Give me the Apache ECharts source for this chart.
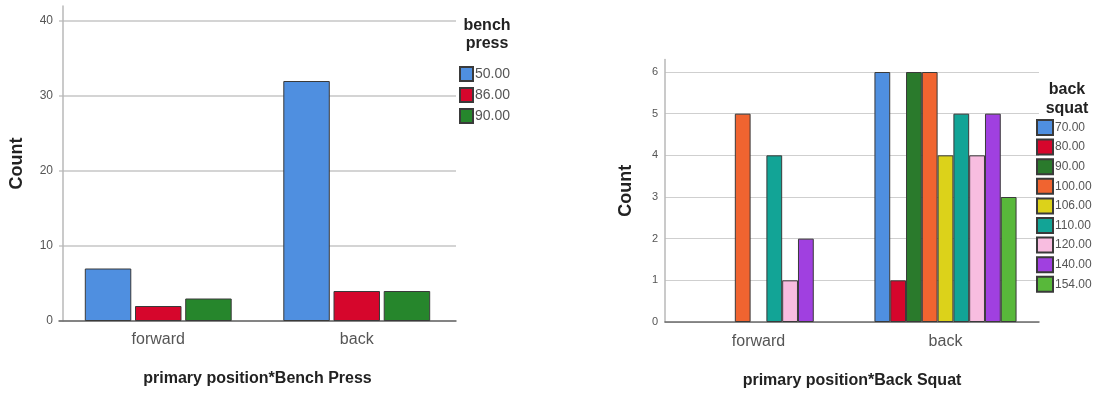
<!DOCTYPE html>
<html>
<head>
<meta charset="utf-8">
<script src="https://cdn.jsdelivr.net/npm/echarts@6/dist/echarts.min.js"></script>
<style>
html,body{margin:0;padding:0;background:#fff;}
#wrap{width:1100px;height:394px;position:relative;}
#c1{position:absolute;left:0;top:0;width:550px;height:394px;}
#c2{position:absolute;left:550px;top:0;width:550px;height:394px;}
</style>
</head>
<body>
<div id="wrap"><div id="c1"></div><div id="c2"></div></div>
<script>
// ---- data ----
const categories = ['forward', 'back'];

const benchNames = ['50.00', '86.00', '90.00'];
const benchValues = [
  [7, 32],
  [2, 4],
  [3, 4]
];
const benchColors = ['#4f8fe0', '#d6062c', '#26862c'];
const benchTicks = [0, 10, 20, 30, 40];

const squatNames = ['70.00', '80.00', '90.00', '100.00', '106.00', '110.00', '120.00', '140.00', '154.00'];
const squatValues = [
  [null, 6],
  [null, 1],
  [null, 6],
  [5, 6],
  [null, 4],
  [4, 5],
  [1, 4],
  [2, 5],
  [null, 3]
];
const squatColors = ['#4f8fe0', '#d6062c', '#2a7a2c', '#f06430', '#dcd21a', '#12a496', '#f8bde0', '#a040e0', '#58b83a'];
const squatTicks = [0, 1, 2, 3, 4, 5, 6];

const FONT = '"Liberation Sans", Arial, sans-serif';

function makeOption(cfg) {
  const series = cfg.names.map((n, i) => ({
    name: n,
    type: 'bar',
    data: cfg.values[i],
    barGap: cfg.barGap,
    barCategoryGap: cfg.catGap,
    itemStyle: { color: cfg.colors[i], borderColor: '#3a3a3a', borderWidth: 1 },
    emphasis: { disabled: true }
  }));
  return {
    animation: false,
    textStyle: { fontFamily: FONT },
    title: [{
      text: cfg.legendTitle,
      left: cfg.legendTitleX,
      top: cfg.legendTitleTop,
      textAlign: 'center',
      textStyle: { fontFamily: FONT, fontSize: 16, fontWeight: 'bold', color: '#222', lineHeight: cfg.legendTitleLH }
    }],
    legend: {
      orient: 'vertical',
      left: cfg.legendX,
      top: cfg.legendTop,
      itemWidth: cfg.iconW,
      itemHeight: cfg.iconH,
      itemGap: cfg.legendGap,
      icon: 'rect',
      padding: 0,
      selectedMode: false,
      textStyle: { fontFamily: FONT, fontSize: cfg.legendFont, color: '#555', padding: [0, 0, 0, -3] },
      data: cfg.names
    },
    grid: { left: cfg.gridLeft, top: cfg.gridTop, width: cfg.gridW, height: cfg.gridH },
    xAxis: {
      type: 'category',
      data: categories,
      axisLine: { lineStyle: { color: '#6a6a6a', width: 1.5 } },
      axisTick: { show: false },
      axisLabel: { fontFamily: FONT, fontSize: 16, color: '#555', margin: cfg.catMargin },
      name: cfg.xName,
      nameLocation: 'middle',
      nameGap: cfg.xNameGap,
      nameTextStyle: { fontFamily: FONT, fontSize: 16, fontWeight: 'bold', color: '#222' }
    },
    yAxis: {
      type: 'value',
      min: 0,
      max: cfg.yMax,
      interval: cfg.yInterval,
      offset: cfg.yOffset,
      axisLine: { show: true, lineStyle: { color: '#b8b8b8', width: 1.5 } },
      axisTick: { show: false },
      axisLabel: {
        fontFamily: FONT, fontSize: cfg.tickFont, color: '#555', margin: cfg.tickMargin,
        showMaxLabel: false,
        formatter: v => (cfg.ticks.indexOf(v) >= 0 ? String(v) : '')
      },
      splitLine: { show: true, showMaxLine: false, lineStyle: { color: cfg.gridColor, width: cfg.gridWidth } },
      name: 'Count',
      nameLocation: 'middle',
      nameRotate: 90,
      nameGap: cfg.yNameGap,
      nameTextStyle: { fontFamily: FONT, fontSize: 18, fontWeight: 'bold', color: '#222' }
    },
    series: series
  };
}

const c1 = echarts.init(document.getElementById('c1'), null, { renderer: 'canvas' });
c1.setOption(makeOption({
  names: benchNames, values: benchValues, colors: benchColors, ticks: benchTicks,
  barGap: '8%', catGap: '26%',
  legendTitle: 'bench\npress', legendTitleX: 482, legendTitleTop: 12, legendTitleLH: 18,
  legendX: 459, legendTop: 66, iconW: 13, iconH: 14, legendGap: 5, legendFont: 14,
  gridLeft: 57, gridTop: 6, gridW: 399, gridH: 315, yOffset: -4,
  catMargin: 11, xName: 'primary position*Bench Press', xNameGap: 50,
  yMax: 42, yInterval: 10, tickFont: 12, tickMargin: 10,
  gridColor: '#d4d4d4', gridWidth: 2, yNameGap: 37
}));

const c2 = echarts.init(document.getElementById('c2'), null, { renderer: 'canvas' });
c2.setOption(makeOption({
  names: squatNames, values: squatValues, colors: squatColors, ticks: squatTicks,
  barGap: '0%', catGap: '24%',
  legendTitle: 'back\nsquat', legendTitleX: 512, legendTitleTop: 75, legendTitleLH: 19,
  legendX: 486, legendTop: 119, iconW: 16, iconH: 15, legendGap: 2.6, legendFont: 12,
  gridLeft: 115, gridTop: 59.5, gridW: 374, gridH: 262.5, yOffset: 0,
  catMargin: 12, xName: 'primary position*Back Squat', xNameGap: 51,
  yMax: 6.3, yInterval: 1, tickFont: 11, tickMargin: 7,
  gridColor: '#cfcfcf', gridWidth: 1.2, yNameGap: 30
}));
</script>
</body>
</html>
